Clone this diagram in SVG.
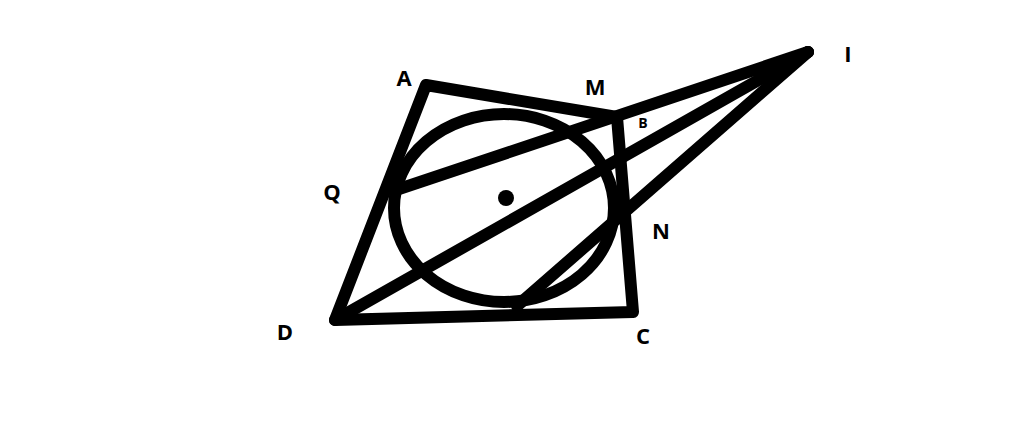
<svg xmlns="http://www.w3.org/2000/svg" width="1024" height="428" viewBox="0 0 1024 428">
<style>
.s{fill:none;stroke:#000;stroke-width:12;stroke-linecap:round;stroke-linejoin:round}
.t{font-family:"Open Sans","Liberation Sans",sans-serif;font-weight:bold;font-size:22px;fill:#000;text-anchor:middle}
</style>
<rect width="1024" height="428" fill="#fff"/>
<g id="quad"><polygon class="s" points="426,85 617,117 633,312 335,320"/></g>
<g id="circle"><ellipse class="s" cx="504" cy="208" rx="110" ry="94"/><circle cx="506" cy="198" r="8" fill="#000"/></g>
<g id="connectors">
<line class="s" x1="808" y1="52" x2="396" y2="190"/>
<line class="s" x1="808" y1="52" x2="335" y2="320"/>
<line class="s" x1="808" y1="52" x2="517" y2="306"/>
</g>
<g id="labels">
<text class="t" x="404" y="86">A</text>
<text class="t" x="595" y="95">M</text>
<text class="t" x="643" y="128" style="font-size:14px">B</text>
<text class="t" x="332" y="200">Q</text>
<text class="t" x="661" y="239">N</text>
<text class="t" x="848" y="62">I</text>
<text class="t" x="285" y="340">D</text>
<text class="t" x="643" y="344">C</text>
</g>
</svg>
